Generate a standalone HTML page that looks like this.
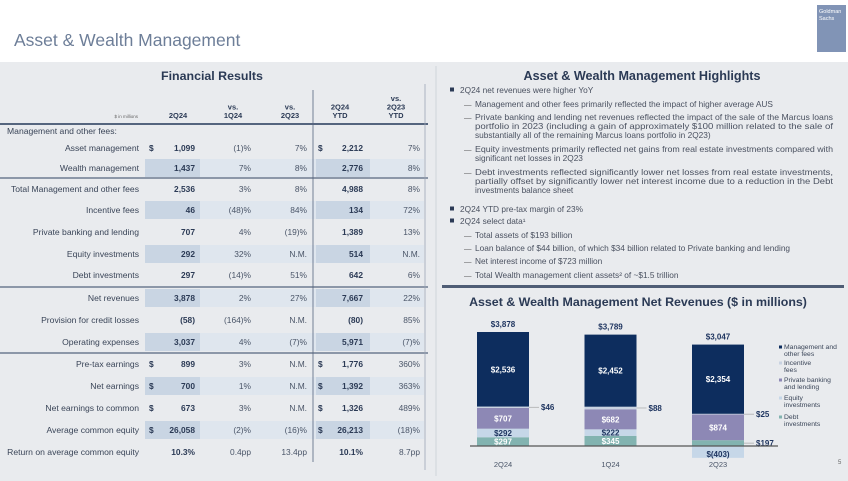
<!DOCTYPE html>
<html><head><meta charset="utf-8"><style>
body{margin:0;width:848px;height:476px;overflow:hidden;background:#e9ebee;font-family:"Liberation Sans",sans-serif}
svg text{font-family:"Liberation Sans",sans-serif}
</style></head><body>
<svg id="s" width="848" height="476" viewBox="0 0 848 476">
<rect x="0" y="0" width="848" height="62" fill="#ffffff"/>
<text x="14" y="46" font-size="17.5" fill="#6d7e98">Asset &amp; Wealth Management</text>
<g><rect x="817" y="5" width="29" height="47" fill="#8194b6"/>
<text x="819" y="13" font-size="5.5" fill="#fff" font-family="Liberation Serif">Goldman</text>
<text x="819" y="20" font-size="5.5" fill="#fff" font-family="Liberation Serif">Sachs</text></g>
<g id="tbl"></g>
<g id="hl"></g>
<g id="chart"></g>
</svg>
<script>
const NS="http://www.w3.org/2000/svg";
function mk(p,tag,a,txt){const e=document.createElementNS(NS,tag);for(const k in a)e.setAttribute(k,a[k]);if(txt!==undefined)e.textContent=txt;p.appendChild(e);return e;}
// ---------- TABLE ----------
const tbl=document.getElementById('tbl');
mk(tbl,'text',{x:212,y:80,'font-size':12.4,'font-weight':'bold',fill:'#2b3a55','text-anchor':'middle',},'Financial Results');
const rows=[
["Management and other fees:","","","","","",0,1],
["Asset management","$ 1,099","(1)%","7%","$ 2,212","7%",0,0],
["Wealth management","1,437","7%","8%","2,776","8%",1,0],
["Total Management and other fees","2,536","3%","8%","4,988","8%",0,0],
["Incentive fees","46","(48)%","84%","134","72%",1,0],
["Private banking and lending","707","4%","(19)%","1,389","13%",0,0],
["Equity investments","292","32%","N.M.","514","N.M.",1,0],
["Debt investments","297","(14)%","51%","642","6%",0,0],
["Net revenues","3,878","2%","27%","7,667","22%",1,0],
["Provision for credit losses","(58)","(164)%","N.M.","(80)","85%",0,0],
["Operating expenses","3,037","4%","(7)%","5,971","(7)%",1,0],
["Pre-tax earnings","$ 899","3%","N.M.","$ 1,776","360%",0,0],
["Net earnings","$ 700","1%","N.M.","$ 1,392","363%",1,0],
["Net earnings to common","$ 673","3%","N.M.","$ 1,326","489%",0,0],
["Average common equity","$ 26,058","(2)%","(16)%","$ 26,213","(18)%",1,0],
["Return on average common equity","10.3%","0.4pp","13.4pp","10.1%","8.7pp",0,0]];
const rowY=[131,148,168,189,210,232,254,275,298,320,342,364,386,408,430,452];
const hd=[[178,["2Q24"]],[233,["vs.","1Q24"]],[290,["vs.","2Q23"]],[340,["2Q24","YTD"]],[396,["vs.","2Q23","YTD"]]];
hd.forEach(h=>{const n=h[1].length;h[1].forEach((t,i)=>mk(tbl,'text',{x:h[0],y:118-(n-1-i)*8.5,'font-size':7.5,'font-weight':'bold',fill:'#2b3a55','text-anchor':'middle',},t));});
mk(tbl,'text',{x:138,y:118,'font-size':4.5,fill:'#666','text-anchor':'end'},'$ in millions');
rows.forEach((r,i)=>{const y=rowY[i];
 if(r[6]){mk(tbl,'rect',{x:145,y:y-9,width:279,height:18,fill:'#dfe6ee'});mk(tbl,'rect',{x:145,y:y-9,width:55,height:18,fill:'#c9d5e3'});mk(tbl,'rect',{x:316,y:y-9,width:54,height:18,fill:'#c9d5e3'});}
 mk(tbl,'text',{x:r[7]?7:139,y:y+3,'font-size':8.6,fill:'#3a4558','text-anchor':r[7]?'start':'end',},r[0]);
 const v=(t,x,b)=>{let s=t;if(s.startsWith('$ ')){mk(tbl,'text',{x:x===195?149:318,y:y+3,'font-size':8.4,'font-weight':'bold',fill:'#2b3a55'},'$');s=s.slice(2);}
   mk(tbl,'text',{x:x,y:y+3,'font-size':8.4,'font-weight':b?'bold':'normal',fill:b?'#2b3a55':'#4a5568','text-anchor':'end',},s);};
 if(r[1]){v(r[1],195,1);v(r[2],251,0);v(r[3],307,0);v(r[4],363,1);v(r[5],420,0);}
});
[[124,2],[178,1.2],[287,1.2],[353,1.2]].forEach(l=>mk(tbl,'line',{x1:0,x2:428,y1:l[0],y2:l[0],stroke:'#55657e','stroke-width':l[1]}));
mk(tbl,'line',{x1:313,x2:313,y1:90,y2:462,stroke:'#55657e','stroke-width':0.8});
mk(tbl,'line',{x1:425,x2:425,y1:84,y2:470,stroke:'#9aa5b5','stroke-width':0.8});
mk(tbl,'line',{x1:436,x2:436,y1:66,y2:476,stroke:'#d0d4da','stroke-width':1});
// ---------- HIGHLIGHTS ----------
const hl=document.getElementById('hl');
mk(hl,'text',{x:642,y:80,'font-size':12.6,'font-weight':'bold',fill:'#2b3a55','text-anchor':'middle',},'Asset & Wealth Management Highlights');
const lines=[
[0,93,"2Q24 net revenues were higher YoY",0],
[1,107,"Management and other fees primarily reflected the impact of higher average AUS",0],
[1,120,"Private banking and lending net revenues reflected the impact of the sale of the Marcus loans",1],
[2,129,"portfolio in 2023 (including a gain of approximately $100 million related to the sale of",1],
[2,138,"substantially all of the remaining Marcus loans portfolio in 2Q23)",0],
[1,152,"Equity investments primarily reflected net gains from real estate investments compared with",1],
[2,161,"significant net losses in 2Q23",0],
[1,175,"Debt investments reflected significantly lower net losses from real estate investments,",1],
[2,184,"partially offset by significantly lower net interest income due to a reduction in the Debt",1],
[2,193,"investments balance sheet",0],
[0,212,"2Q24 YTD pre-tax margin of 23%",0],
[0,224,"2Q24 select data¹",0],
[1,238,"Total assets of $193 billion",0],
[1,251,"Loan balance of $44 billion, of which $34 billion related to Private banking and lending",0],
[1,264,"Net interest income of $723 million",0],
[1,278,"Total Wealth management client assets² of ~$1.5 trillion",0]];
lines.forEach(l=>{const x=l[0]===0?460:475;
 if(l[0]===0)mk(hl,'rect',{x:450,y:l[1]-5.5,width:4,height:4,fill:'#2b3a55'});
 if(l[0]===1)mk(hl,'text',{x:464,y:l[1],'font-size':7.5,fill:'#555'},'—');
 const a={x:x,y:l[1],'font-size':8.3,fill:'#4a5160',};
 if(l[3]){a.textLength=833-x;a.lengthAdjust='spacingAndGlyphs';}
 mk(hl,'text',a,l[2]);});
mk(hl,'rect',{x:442,y:285,width:402,height:3,fill:'#4f5d75',});
// ---------- CHART ----------
const categories=["2Q24","1Q24","2Q23"];
const mgmtFees=[2536,2452,2354];
const incentiveFees=[46,88,25];
const privateBanking=[707,682,874];
const equityInv=[292,222,-403];
const debtInv=[297,345,197];
const totals=[3878,3789,3047];
const mgmtLabels=["$2,536","$2,452","$2,354"];
const incLabels=["$46","$88","$25"];
const pbLabels=["$707","$682","$874"];
const eqLabels=["$292","$222","$(403)"];
const debtLabels=["$297","$345","$197"];
const totalLabels=["$3,878","$3,789","$3,047"];
const ch=document.getElementById('chart');
const zeroY=446, pxPer=114/3878;
const yS=v=>zeroY-v*pxPer;
const xC=i=>503+i*107.5, bw=52;
mk(ch,'text',{x:638,y:306,'font-size':12.4,'font-weight':'bold',fill:'#2b3a55','text-anchor':'middle',},'Asset & Wealth Management Net Revenues ($ in millions)');
const cols={debt:'#82b3b0',eq:'#c6d7e8',pb:'#8d88b5',inc:'#c9d3e2',mg:'#0d2d5e'};
categories.forEach((c,i)=>{const x0=xC(i)-bw/2;
 let pos=0,neg=0;
 const seg=(v,col,name)=>{let y0,y1;if(v>=0){y0=yS(pos+v);y1=yS(pos);pos+=v;}else{y0=yS(neg);y1=yS(neg+v);neg+=v;}
   const r=mk(ch,'rect',{x:x0,y:y0,width:bw,height:Math.max(0,y1-y0),fill:col});
   
   
   return [y0,y1];};
 const d=seg(debtInv[i],cols.debt,'bar-debt-'+c);
 const e=seg(equityInv[i],cols.eq,'bar-equity-'+c);
 const p=seg(privateBanking[i],cols.pb,'bar-private-banking-'+c);
 const n=seg(incentiveFees[i],cols.inc,'bar-incentive-'+c);
 const m=seg(mgmtFees[i],cols.mg,'bar-management-'+c);
 const t=(x,y,s,col,anchor)=>mk(ch,'text',{x:x,y:y,'font-size':8,'font-weight':'bold',fill:col,'text-anchor':anchor||'middle',},s);
 t(xC(i),(m[0]+m[1])/2+3,mgmtLabels[i],'#fff');
 t(xC(i),(p[0]+p[1])/2+3,pbLabels[i],'#fff');
 if(equityInv[i]>=0){t(xC(i),(e[0]+e[1])/2+3,eqLabels[i],'#1f3560');t(xC(i),(d[0]+d[1])/2+3,debtLabels[i],'#fff');}
 else{t(xC(i),e[1]-1,eqLabels[i],'#1f3560');mk(ch,'line',{x1:x0+bw,x2:x0+bw+10,y1:(d[0]+d[1])/2,y2:(d[0]+d[1])/2,stroke:'#999','stroke-width':0.6});t(x0+bw+12,(d[0]+d[1])/2+3,debtLabels[i],'#1f3560','start');}
 mk(ch,'line',{x1:x0+bw,x2:x0+bw+10,y1:(n[0]+n[1])/2,y2:(n[0]+n[1])/2,stroke:'#999','stroke-width':0.6});
 t(x0+bw+12,(n[0]+n[1])/2+3,incLabels[i],'#1f3560','start');
 t(xC(i),m[0]-5,totalLabels[i],'#1f3560');
 mk(ch,'text',{x:xC(i),y:467,'font-size':7.5,fill:'#4a5568','text-anchor':'middle',},c);
});
mk(ch,'line',{x1:470,x2:778,y1:zeroY,y2:zeroY,stroke:'#555','stroke-width':1.2,});
const legend=[[cols.mg,["Management and","other fees"],349],[cols.inc,["Incentive","fees"],365],[cols.pb,["Private banking","and lending"],382],[cols.eq,["Equity","investments"],400],[cols.debt,["Debt","investments"],419]];
legend.forEach(l=>{const g=mk(ch,'g',{});
 mk(g,'rect',{x:779,y:l[2]-3.5,width:3,height:3,fill:l[0]});
 l[1].forEach((s,j)=>mk(g,'text',{x:784,y:l[2]+j*7,'font-size':6.8,fill:'#3a4558'},s));});
mk(ch,'text',{x:838,y:464,'font-size':6,fill:'#666',},'5');
</script>
</body></html>
